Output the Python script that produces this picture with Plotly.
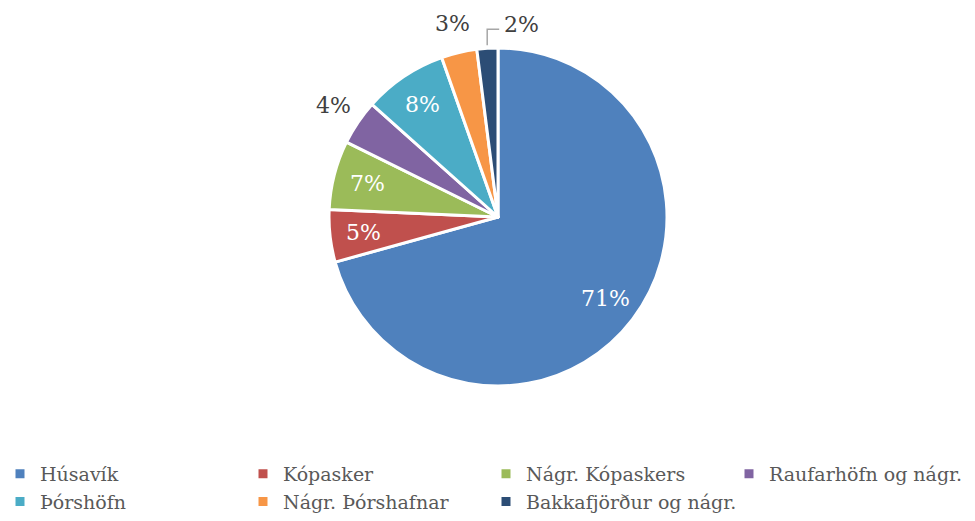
import math
import plotly.graph_objects as go

labels = ["Húsavík", "Kópasker", "Nágr. Kópaskers", "Raufarhöfn og nágr.",
          "Þórshöfn", "Nágr. Þórshafnar", "Bakkafjörður og nágr."]
values = [70.7, 5.0, 6.6, 4.3, 8.0, 3.4, 2.0]
colors = ["#4F81BD", "#C0504D", "#9BBB59", "#8064A2", "#4BACC6", "#F79646", "#2C4D75"]
label_place = ["in", "in", "in", "out", "in", "out", "leader"]

W, H = 975, 521
CX, CY, R = 498, 217, 169

fig = go.Figure(go.Pie(
    labels=labels, values=values, sort=False, direction="clockwise", rotation=0,
    marker=dict(colors=colors, line=dict(color="white", width=3)),
    textinfo="none",
    domain=dict(x=[(CX - R) / W, (CX + R) / W],
                y=[1 - (CY + R) / H, 1 - (CY - R) / H]),
    hoverinfo="label+percent",
))

# data labels placed from the slice angles
total = sum(values)
cum = 0.0
for v, place in zip(values, label_place):
    mid = (cum + v / 2) / total * 2 * math.pi
    cum += v
    sx, sy = math.sin(mid), -math.cos(mid)
    txt = f"{round(v / total * 100)}%"
    if place == "in":
        d = 0.8 * R
        fig.add_annotation(x=(CX + d * sx) / W, y=1 - (CY + d * sy) / H, xref="paper", yref="paper",
                           text=txt, showarrow=False, xanchor="center", yanchor="middle",
                           font=dict(size=22, color="white", family="DejaVu Serif"))
    elif place == "out":
        d = R + 30
        fig.add_annotation(x=(CX + d * sx) / W, y=1 - (CY + d * sy) / H, xref="paper", yref="paper",
                           text=txt, showarrow=False, xanchor="center", yanchor="middle",
                           font=dict(size=22, color="#404040", family="DejaVu Serif"))
    else:
        x0, y0 = CX + (R + 3) * sx, CY + (R + 3) * sy
        y1 = y0 - 16
        x2 = x0 + 12
        fig.add_shape(type="path", xref="paper", yref="paper",
                      path=f"M {x0 / W} {1 - y0 / H} L {x0 / W} {1 - y1 / H} L {x2 / W} {1 - y1 / H}",
                      line=dict(color="#A6A6A6", width=1.5))
        fig.add_annotation(x=(x2 + 3) / W, y=1 - (y1 - 5) / H, xref="paper", yref="paper",
                           text=txt, showarrow=False, xanchor="left", yanchor="middle",
                           font=dict(size=22, color="#404040", family="DejaVu Serif"))

fig.update_layout(
    width=W, height=H,
    margin=dict(l=0, r=0, t=0, b=0, autoexpand=False),
    paper_bgcolor="white",
    font=dict(family="DejaVu Serif", color="#595959"),
    showlegend=True,
    legend=dict(orientation="h", x=0.0, y=0.0, xanchor="left", yanchor="bottom",
                entrywidth=198, entrywidthmode="pixels",
                font=dict(size=19, color="#595959", family="DejaVu Serif"),
                itemwidth=30, tracegroupgap=0),
)

fig.write_html("out.html", config={"displayModeBar": False},
               post_script="document.body.style.margin='0';")
